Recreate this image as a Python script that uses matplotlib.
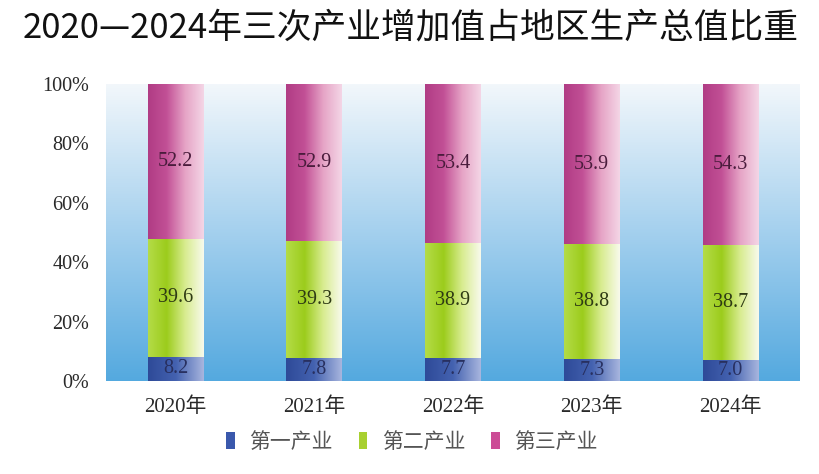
import numpy as np
import matplotlib
matplotlib.use('Agg')
import matplotlib.pyplot as plt
from matplotlib.colors import LinearSegmentedColormap
from matplotlib.patches import Patch

plt.rcParams['font.family'] = ['Liberation Serif', 'Noto Sans CJK SC', 'DejaVu Sans']

# data
years = ['2020年', '2021年', '2022年', '2023年', '2024年']
primary = [8.2, 7.8, 7.7, 7.3, 7.0]
secondary = [39.6, 39.3, 38.9, 38.8, 38.7]
tertiary = [52.2, 52.9, 53.4, 53.9, 54.3]
series_names = ['第一产业', '第二产业', '第三产业']
yticks = [0, 20, 40, 60, 80, 100]

title = '2020—2024年三次产业增加值占地区生产总值比重'

# horizontal gradients for each segment (left -> right)
grad_colors = [
    ['#2e4a98', '#4462b0', '#a8b6de'],
    ['#b4dc48', '#9ccc1c', '#d8ec90', '#f8faec'],
    ['#b03c84', '#c25096', '#e6a4c6', '#f4d6e6'],
]
label_colors = ['#283060', '#2e3a14', '#4a1c3c']
legend_colors = ['#3a58ac', '#a8d030', '#cc4c96']

fig = plt.figure(figsize=(8.19, 4.74), dpi=100)
ax = fig.add_axes([106 / 819, 1 - 381 / 474, 694 / 819, 297 / 474])

# background gradient of plot area
bg = LinearSegmentedColormap.from_list('bg', ['#54a9df', '#a4d0ee', '#f2f7fb'])
ax.imshow(np.linspace(0, 1, 256).reshape(-1, 1), cmap=bg, aspect='auto',
          extent=[0, 1, 0, 1], transform=ax.transAxes, origin='lower', zorder=0)

x = np.arange(len(years))
width = 0.40
bottoms = np.zeros(len(years))
grad = np.linspace(0, 1, 256).reshape(1, -1)
for vals, cols, tc in zip([primary, secondary, tertiary], grad_colors, label_colors):
    cmap = LinearSegmentedColormap.from_list('g', cols)
    bars = ax.bar(x, vals, width, bottom=bottoms, color='none', edgecolor='none', zorder=2)
    for b, v, bot in zip(bars, vals, bottoms):
        x0, y0 = b.get_x(), b.get_y()
        im = ax.imshow(grad, cmap=cmap, aspect='auto',
                       extent=[x0, x0 + b.get_width(), y0, y0 + b.get_height()],
                       zorder=2)
        im.set_clip_path(b)
        ax.text(b.get_x() + b.get_width() / 2, bot + v / 2, f'{v:.1f}',
                ha='center', va='center', fontsize=14.5, color=tc, zorder=3)
    bottoms = bottoms + np.array(vals)

ax.set_xlim(-0.5, len(years) - 0.5)
ax.set_ylim(0, 100)
ax.set_yticks(yticks)
ax.set_yticklabels([f'{t}%' for t in yticks], fontsize=14.5, color='#2a2a2a')
ax.set_xticks(x)
ax.set_xticklabels(years, fontsize=15, color='#2a2a2a')
ax.tick_params(axis='x', length=0, pad=12)
ax.tick_params(axis='y', length=0, pad=12)
for s in ax.spines.values():
    s.set_visible(False)

fig.text(0.502, 0.942, title, ha='center', va='center', fontsize=25,
         family=['Noto Sans CJK SC', 'DejaVu Sans'], color='#111111')

handles = [Patch(facecolor=c, edgecolor='none') for c in legend_colors]
fig.legend(handles, series_names, loc='center', bbox_to_anchor=(0.503, 1 - 442 / 474),
           ncol=3, frameon=False, handlelength=0.4, handleheight=0.9,
           handletextpad=0.7, columnspacing=1.25,
           prop={'family': ['Noto Sans CJK SC', 'DejaVu Sans'], 'size': 15})
for t in fig.legends[0].get_texts():
    t.set_color('#555555')

fig.savefig('out.png', dpi=100)
